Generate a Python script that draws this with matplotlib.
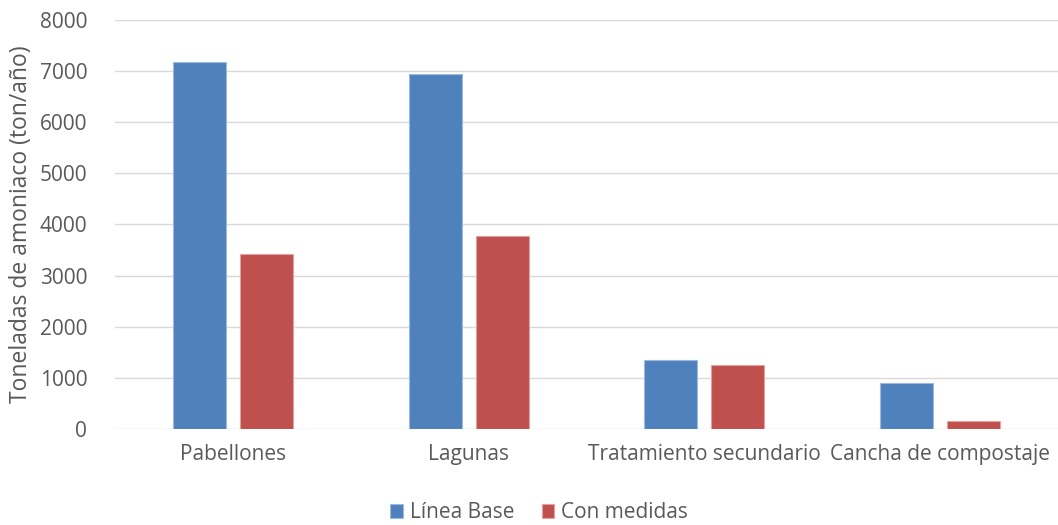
import numpy as np
import matplotlib.pyplot as plt

plt.rcParams['font.family'] = ['Open Sans', 'DejaVu Sans']

categorias = ["Pabellones", "Lagunas", "Tratamiento secundario", "Cancha de compostaje"]
linea_base = [7180, 6950, 1340, 890]
con_medidas = [3420, 3780, 1245, 150]

gris = "#595959"

fig = plt.figure(figsize=(10.58, 5.25), dpi=100)
ax = fig.add_axes([115 / 1058, 1 - 429 / 525, 1 - 115 / 1058, (429 - 20) / 525])

x = np.arange(len(categorias))
ancho = 0.225
sep = 0.06
ax.bar(x - (ancho + sep) / 2, linea_base, ancho, color="#4F81BD",
       edgecolor="#9DB9DD", linewidth=0.8, label="Línea Base", zorder=3)
ax.bar(x + (ancho + sep) / 2, con_medidas, ancho, color="#C0504D",
       edgecolor="#E0A3A1", linewidth=0.8, label="Con medidas", zorder=3)

ax.set_xlim(-0.5, len(categorias) - 0.5)
ax.set_ylim(0, 8000)
ax.set_yticks(np.arange(0, 8001, 1000))
ax.set_xticks(x)
ax.set_xticklabels(categorias)

ax.grid(axis="y", color="#D9D9D9", linewidth=1, zorder=0)
for s in ax.spines.values():
    s.set_visible(False)
ax.tick_params(axis="both", length=0, colors=gris, labelsize=15)
ax.tick_params(axis="x", pad=11)
ax.tick_params(axis="y", pad=20)

ax.set_ylabel("Toneladas de amoniaco (ton/año)", color=gris, fontsize=16.5, labelpad=5)

ax.legend(loc="center", bbox_to_anchor=(0.45, -0.205), ncol=2,
          frameon=False, fontsize=15, labelcolor=gris, handlelength=0.6,
          handleheight=0.6, handletextpad=0.35, columnspacing=1.3)

fig.savefig("out.png", dpi=100)
